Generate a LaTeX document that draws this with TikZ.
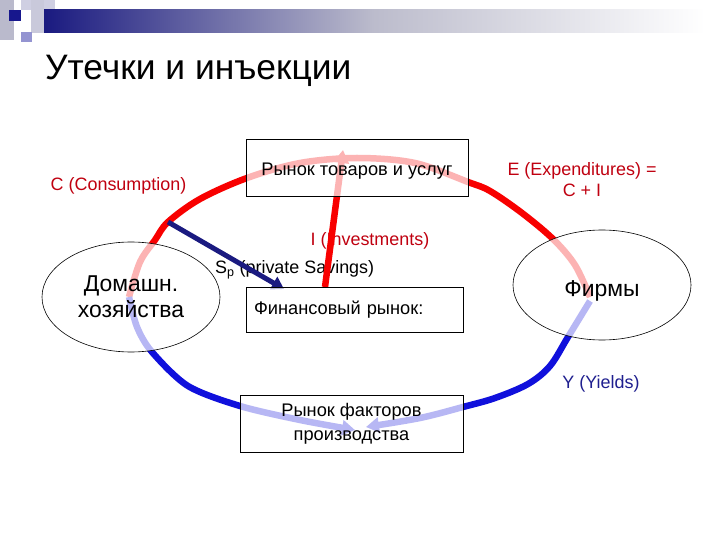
\documentclass[tikz,border=0pt]{standalone}
\usepackage{fontspec}
\setmainfont{Liberation Sans}
\usetikzlibrary{arrows.meta,shapes.geometric}
\definecolor{rline}{HTML}{F80000}
\definecolor{bline}{HTML}{1010DC}
\definecolor{navyline}{HTML}{1A1A80}
\definecolor{redtxt}{HTML}{C00010}
\definecolor{bluetxt}{HTML}{1F1F8F}
\tikzset{
  flowred/.style={draw=rline, line width=6.5bp, line join=round},
  flowblue/.style={draw=bline, line width=6.5bp, line join=round},
  tip/.style={-{Triangle[length=13bp,width=15bp]}},
  box/.style={draw=black, line width=0.8bp, rectangle, fill=white, fill opacity=0.7, text opacity=1, inner sep=0pt, font=\fontsize{18.3}{22}\selectfont},
  oval/.style={draw=black, line width=0.6bp, ellipse, fill=white, fill opacity=0.7, text opacity=1, inner sep=0pt, minimum width=178bp, minimum height=110bp, font=\fontsize{23}{26}\selectfont, align=center},
  lbl/.style={inner sep=0pt, font=\fontsize{18}{21}\selectfont}
}
\begin{document}
\begin{tikzpicture}[x=1bp,y=-1bp]
\useasboundingbox (0,0) rectangle (720,540);
\fill[white] (0,0) rectangle (720,540);
% header decoration
\fill[white!88!blue!60!gray] (0,0) rectangle (14,40);
\fill[blue!25!gray!30] (21,0) rectangle (55,10);
\fill[blue!20!gray!35] (31,0) rectangle (44,33);
\fill[blue!40!gray!60] (21,32) rectangle (32,42);
\shade[left color=navyline, right color=white, middle color=navyline!40!gray!40!white] (44,10) rectangle (705,33);
\fill[navyline!90!blue] (9,10) rectangle (21,21);
% title
\node[anchor=base west, inner sep=0pt, font=\fontsize{35.5}{40}\selectfont] (title) at (45,80) {Утечки и инъекции};
% labels
\node[lbl, text=redtxt] (lc) at (118.5,185.5) {C (Consumption)};
\node[lbl, text=redtxt, align=center] (le) at (582,180) {E (Expenditures) =\\C + I};
\node[lbl, text=redtxt] (li) at (370,241) {I (Investments)};
\node[lbl, anchor=west] (ls) at (215,270) {S\textsubscript{p} (private Savings)};
\node[lbl, text=bluetxt] (ly) at (601,384) {Y (Yields)};
% anchor points
\coordinate (hhc) at (129,297);
\coordinate (fmr) at (590,297);
\coordinate (fmb) at (590,301);
\coordinate (split) at (168,222);
\coordinate (ftop) at (325,287);
\coordinate (gtip) at (343,150);
\coordinate (fl) at (355,430);
\coordinate (fr) at (366,427);
% flows
\draw[flowred] plot[smooth, tension=0.55] coordinates {(hhc) (140,262) (155,240) (split) (200,199) (247,178) (300,163) (357,158) (415,163) (468,182) (490,191) (522,213) (553,239) (575,265) (fmr)};
\draw[flowred, tip] (ftop) -- (gtip);
\draw[draw=navyline, line width=5bp, -{Triangle[length=12bp,width=14bp]}] (split) -- (284,289);
\draw[flowblue, tip] plot[smooth, tension=0.5] coordinates {(hhc) (137,327) (152,352) (188,386) (240,406) (300,420) (fl)};
\draw[flowblue, tip] plot[smooth, tension=0.55] coordinates {(fmb) (568,337) (550,366) (528,384) (495,398) (463,407) (420,418) (fr)};
% nodes
\node[box, minimum width=222bp, minimum height=57bp, text height=20bp, text depth=4bp] (goods) at (357,167.5) {Рынок товаров и услуг};
\node[box, text width=201bp, inner xsep=8bp, minimum height=45bp, align=left] (fin) at (354.5,309.5) {Финансовый рынок:};
\node[box, minimum width=223bp, minimum height=57bp, align=center, font=\fontsize{18.3}{24}\selectfont] (fact) at (351.5,424) {Рынок факторов\\производства};
\node[oval] (hh) at (131,297) {Домашн.\\хозяйства};
\node[oval, text height=27bp, text depth=5bp] (fm) at (602,285) {Фирмы};
\end{tikzpicture}
\end{document}
